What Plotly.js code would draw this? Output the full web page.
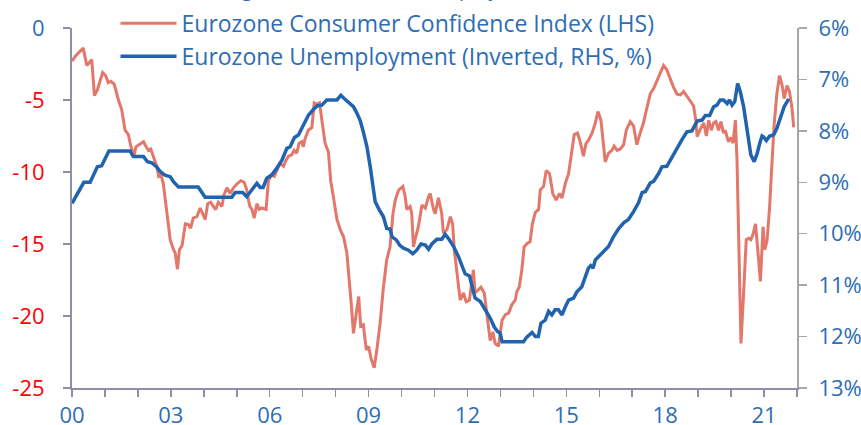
<!DOCTYPE html>
<html><head><meta charset="utf-8">
<script src="https://cdn.plot.ly/plotly-3.0.1.min.js"></script>
<style>html,body{margin:0;padding:0;background:#fff;}#chart{width:861px;height:425px;}</style>
</head><body><div id="chart"></div>
<script>
// Eurozone Consumer Confidence Index (LHS)
const confYears = [2000.00,2000.12,2000.34,2000.45,2000.60,2000.68,2000.77,2000.93,2001.02,2001.10,2001.18,2001.28,2001.41,2001.51,2001.61,2001.71,2001.79,2001.88,2001.94,2002.04,2002.17,2002.25,2002.32,2002.39,2002.47,2002.57,2002.63,2002.70,2002.77,2002.85,2002.92,2002.98,2003.08,2003.13,2003.20,2003.26,2003.34,2003.44,2003.53,2003.60,2003.68,2003.79,2003.89,2003.96,2004.04,2004.12,2004.21,2004.29,2004.36,2004.44,2004.55,2004.61,2004.70,2004.80,2004.90,2005.02,2005.12,2005.22,2005.30,2005.36,2005.40,2005.46,2005.53,2005.61,2005.68,2005.76,2005.89,2005.96,2006.06,2006.14,2006.21,2006.31,2006.42,2006.49,2006.57,2006.67,2006.74,2006.82,2006.89,2006.97,2007.02,2007.07,2007.17,2007.28,2007.35,2007.43,2007.51,2007.58,2007.68,2007.78,2007.85,2007.93,2008.04,2008.14,2008.24,2008.34,2008.42,2008.49,2008.54,2008.62,2008.70,2008.76,2008.84,2008.93,2009.00,2009.08,2009.17,2009.25,2009.35,2009.45,2009.55,2009.65,2009.74,2009.81,2009.91,2010.04,2010.11,2010.16,2010.26,2010.31,2010.36,2010.43,2010.51,2010.62,2010.72,2010.82,2010.87,2010.97,2011.02,2011.12,2011.22,2011.27,2011.38,2011.48,2011.55,2011.60,2011.68,2011.78,2011.88,2011.96,2012.06,2012.13,2012.18,2012.23,2012.33,2012.41,2012.51,2012.59,2012.69,2012.77,2012.84,2012.94,2013.05,2013.15,2013.25,2013.35,2013.45,2013.50,2013.57,2013.65,2013.72,2013.82,2013.90,2013.97,2014.06,2014.16,2014.21,2014.31,2014.39,2014.49,2014.59,2014.69,2014.79,2014.87,2014.97,2015.07,2015.17,2015.24,2015.34,2015.42,2015.52,2015.60,2015.67,2015.78,2015.88,2015.96,2016.05,2016.11,2016.18,2016.28,2016.38,2016.45,2016.54,2016.64,2016.74,2016.82,2016.94,2017.04,2017.14,2017.24,2017.34,2017.45,2017.55,2017.65,2017.75,2017.85,2017.95,2018.05,2018.15,2018.25,2018.36,2018.46,2018.56,2018.68,2018.76,2018.86,2018.93,2018.97,2019.07,2019.17,2019.25,2019.32,2019.40,2019.47,2019.54,2019.62,2019.69,2019.77,2019.82,2019.92,2020.00,2020.06,2020.13,2020.18,2020.23,2020.30,2020.38,2020.46,2020.53,2020.60,2020.67,2020.74,2020.81,2020.89,2020.97,2021.02,2021.09,2021.17,2021.24,2021.31,2021.39,2021.47,2021.55,2021.61,2021.70,2021.77,2021.85,2021.90];
const confValues = [-2.3,-1.9,-1.4,-2.6,-2.2,-4.7,-4.3,-3.1,-3.3,-3.8,-3.7,-3.9,-5.0,-5.7,-7.1,-7.4,-8.25,-8.9,-8.25,-8.1,-7.9,-8.25,-8.5,-8.4,-8.9,-9.6,-10.3,-10.2,-10.8,-12.2,-13.8,-14.7,-15.4,-15.6,-16.75,-15.4,-15.1,-13.6,-13.65,-13.9,-13.2,-13.1,-12.5,-12.9,-13.3,-12.2,-12.1,-12.4,-12.6,-12.1,-12.4,-11.6,-11.1,-11.5,-11.1,-10.8,-10.6,-10.7,-11.2,-12.0,-12.4,-12.6,-13.2,-12.2,-12.6,-12.5,-12.6,-10.6,-10.2,-10.3,-9.9,-9.4,-9.6,-9.2,-8.9,-8.8,-8.5,-8.7,-8.0,-7.9,-8.25,-7.7,-7.1,-6.9,-5.2,-5.3,-5.2,-6.4,-8.0,-8.6,-10.6,-11.7,-13.3,-14.0,-14.5,-15.6,-17.5,-19.6,-21.2,-20.0,-18.65,-20.7,-20.6,-22.35,-22.1,-23.0,-23.6,-22.35,-20.5,-18.0,-16.1,-15.2,-12.9,-11.95,-11.25,-11.0,-11.7,-12.6,-12.4,-12.9,-15.2,-14.5,-13.8,-12.3,-12.5,-11.7,-11.5,-12.6,-12.9,-11.8,-12.9,-14.25,-14.0,-13.1,-13.6,-15.4,-17.0,-18.9,-18.4,-19.0,-18.9,-17.7,-16.8,-18.4,-18.2,-18.0,-18.4,-19.8,-21.7,-21.1,-21.9,-22.1,-20.3,-19.9,-19.8,-19.2,-18.9,-18.3,-18.0,-16.8,-15.2,-14.95,-14.85,-13.6,-12.8,-12.6,-11.25,-11.0,-9.9,-10.1,-11.5,-11.95,-11.5,-11.8,-10.8,-10.1,-8.5,-7.4,-7.3,-7.9,-8.9,-8.0,-7.8,-7.3,-6.6,-5.8,-6.4,-7.8,-9.3,-8.7,-8.5,-8.2,-8.5,-8.4,-8.1,-7.1,-6.5,-6.8,-8.1,-7.3,-6.6,-5.5,-4.55,-4.2,-3.7,-3.2,-2.6,-2.9,-3.5,-4.1,-4.6,-4.65,-4.4,-4.8,-5.1,-5.4,-6.4,-7.55,-7.0,-6.6,-7.5,-6.4,-7.1,-6.6,-6.5,-7.1,-6.5,-7.3,-7.1,-7.9,-7.6,-8.0,-6.4,-9.2,-14.5,-21.9,-18.4,-14.7,-14.6,-14.7,-14.3,-13.6,-15.4,-17.6,-13.8,-15.4,-14.8,-12.4,-9.4,-6.6,-4.55,-3.3,-4.0,-4.9,-4.0,-4.4,-5.6,-6.9];

// Eurozone Unemployment (Inverted, RHS, %)
const unempYears = [2000.00,2000.14,2000.36,2000.55,2000.77,2000.90,2001.12,2001.76,2001.86,2002.17,2002.29,2002.42,2002.57,2002.69,2002.82,2002.98,2003.08,2003.23,2003.83,2004.04,2004.85,2004.95,2005.18,2005.30,2005.46,2005.61,2005.71,2005.80,2005.91,2006.06,2006.21,2006.37,2006.52,2006.62,2006.75,2006.87,2007.02,2007.17,2007.33,2007.45,2007.58,2007.73,2008.04,2008.16,2008.26,2008.39,2008.54,2008.64,2008.74,2008.84,2008.95,2009.05,2009.13,2009.20,2009.33,2009.45,2009.55,2009.65,2009.71,2009.84,2009.94,2010.06,2010.21,2010.34,2010.46,2010.59,2010.72,2010.82,2010.92,2011.07,2011.22,2011.32,2011.42,2011.58,2011.73,2011.83,2011.93,2012.06,2012.15,2012.23,2012.39,2012.54,2012.69,2012.81,2012.91,2012.99,2013.05,2013.70,2013.80,2013.96,2014.06,2014.15,2014.23,2014.36,2014.46,2014.56,2014.66,2014.76,2014.87,2014.97,2015.07,2015.22,2015.32,2015.47,2015.57,2015.67,2015.74,2015.81,2015.88,2016.03,2016.18,2016.28,2016.43,2016.59,2016.74,2016.89,2017.04,2017.19,2017.30,2017.40,2017.55,2017.65,2017.80,2017.90,2018.05,2018.21,2018.36,2018.51,2018.66,2018.81,2018.97,2019.12,2019.22,2019.35,2019.47,2019.57,2019.67,2019.77,2019.88,2019.95,2020.03,2020.11,2020.20,2020.28,2020.38,2020.48,2020.60,2020.70,2020.79,2020.87,2020.94,2020.99,2021.07,2021.17,2021.29,2021.39,2021.49,2021.61,2021.75];
const unempValues = [9.41,9.25,9.00,9.00,8.70,8.68,8.39,8.39,8.50,8.50,8.60,8.62,8.70,8.80,8.86,8.89,8.99,9.09,9.09,9.29,9.29,9.20,9.20,9.28,9.15,9.02,9.10,9.10,8.92,8.86,8.73,8.57,8.34,8.31,8.13,8.08,7.89,7.70,7.58,7.51,7.50,7.40,7.40,7.31,7.37,7.44,7.53,7.65,7.79,8.02,8.31,8.70,9.09,9.38,9.54,9.67,9.90,9.91,10.06,10.12,10.22,10.28,10.32,10.39,10.32,10.20,10.22,10.30,10.20,10.11,10.11,10.01,10.09,10.25,10.45,10.61,10.78,10.82,11.03,11.25,11.32,11.48,11.64,11.81,11.90,11.93,12.10,12.10,12.01,11.92,12.00,12.00,11.74,11.68,11.51,11.58,11.48,11.48,11.58,11.42,11.29,11.25,11.13,11.03,10.83,10.67,10.62,10.67,10.51,10.41,10.32,10.25,10.06,9.90,9.79,9.72,9.57,9.40,9.20,9.18,9.01,8.98,8.83,8.70,8.69,8.50,8.34,8.17,8.02,8.00,7.81,7.79,7.70,7.70,7.53,7.50,7.40,7.40,7.47,7.40,7.50,7.43,7.08,7.24,7.53,7.99,8.47,8.60,8.44,8.24,8.10,8.12,8.19,8.10,8.08,7.95,7.76,7.53,7.38];

// Axis ticks
const xTickVals = [2000,2003,2006,2009,2012,2015,2018,2021];
const xTickText = ['00','03','06','09','12','15','18','21'];
const leftTickVals = [0,-5,-10,-15,-20,-25];
const leftTickText = ['<span style="color:#2E6DB4">0</span>','-5','-10','-15','-20','-25'];
const rightTickVals = [6,7,8,9,10,11,12,13];
const rightTickText = ['6%','7%','8%','9%','10%','11%','12%','13%'];

const seriesNames = ['Eurozone Consumer Confidence Index (LHS)','Eurozone Unemployment (Inverted, RHS, %)'];
const titleText = 'Confidence strong and in line with unemployment';

const FONT = 'Open Sans, Arial, sans-serif';
const BLUE_TXT = '#2E6DB4';

const traces = [
  {x: confYears, y: confValues, type:'scatter', mode:'lines', name: seriesNames[0],
   line:{color:'#E2776A', width:3}, yaxis:'y', legendgroup:'a'},
  {x: unempYears, y: unempValues, type:'scatter', mode:'lines', name: seriesNames[1],
   line:{color:'#2163AE', width:3.5}, yaxis:'y2', legendgroup:'b'}
];

const layout = {
  width:861, height:425,
  margin:{l:72, r:64, t:28, b:37, pad:0, autoexpand:false},
  paper_bgcolor:'#fff', plot_bgcolor:'#fff',
  font:{family:FONT, color:BLUE_TXT, size:22},
  showlegend:true,
  legend:{x:0.06, xanchor:'left', y:1.0725, yanchor:'top', bgcolor:'rgba(0,0,0,0)',
    font:{family:FONT, size:23, color:BLUE_TXT}, itemwidth:56, traceorder:'grouped', tracegroupgap:0},
  xaxis:{type:'linear', range:[2000,2022], tickmode:'array', tickvals:xTickVals, ticktext:xTickText,
    showgrid:false, zeroline:false, showline:true, linecolor:'#8C90A2', linewidth:2,
    ticks:'outside', ticklen:7, tickwidth:1.5, tickcolor:'#8C90A2',
    tickfont:{family:FONT, size:22, color:BLUE_TXT}, ticklabelstandoff:0,
    minor:{tickmode:'linear', tick0:2000, dtick:1, ticks:'outside', ticklen:7, tickwidth:1.5, tickcolor:'#8C90A2', showgrid:false}},
  yaxis:{range:[-25,0], tickmode:'array', tickvals:leftTickVals, ticktext:leftTickText,
    showgrid:false, zeroline:false, showline:true, linecolor:'#8C90A2', linewidth:2,
    ticks:'outside', ticklen:7, tickwidth:1.5, tickcolor:'#8C90A2',
    tickfont:{family:FONT, size:22, color:'#FF0000'}, ticklabelstandoff:14},
  yaxis2:{range:[13,6], overlaying:'y', side:'right', anchor:'x', tickmode:'array', tickvals:rightTickVals, ticktext:rightTickText,
    showgrid:false, zeroline:false, showline:true, linecolor:'#A6A6A6', linewidth:2,
    ticks:'outside', ticklen:8, tickwidth:1.5, tickcolor:'#A6A6A6',
    tickfont:{family:FONT, size:22, color:BLUE_TXT}, ticklabelstandoff:7},
  annotations:[{text:titleText, xref:'paper', yref:'paper', x:0.011, y:1, xanchor:'left', yanchor:'bottom',
    yshift:24, showarrow:false, font:{family:FONT, size:20, color:BLUE_TXT}}]
};

Plotly.newPlot('chart', traces, layout, {displayModeBar:false, staticPlot:true});
</script>
</body></html>
